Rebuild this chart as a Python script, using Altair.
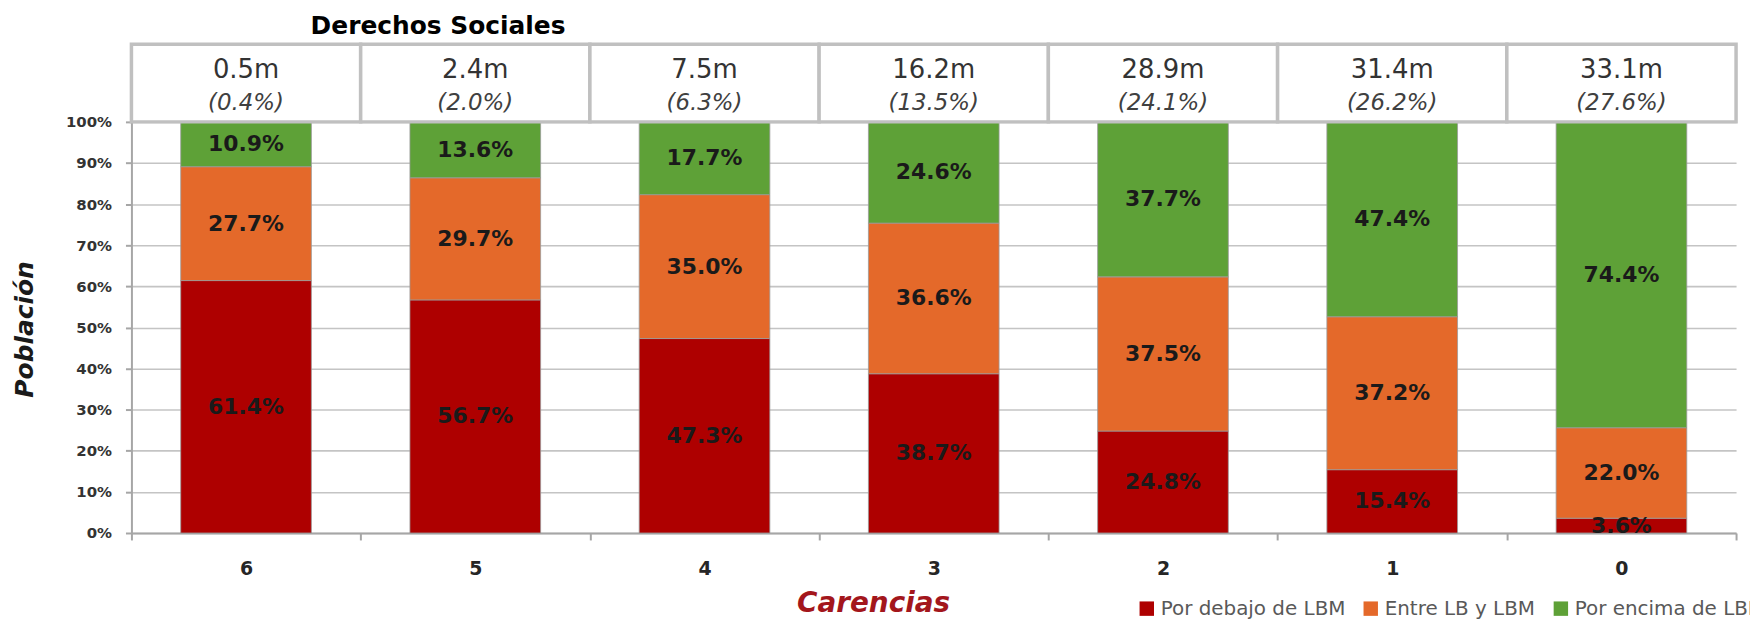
import altair as alt
import pandas as pd

carencias = ["6", "5", "4", "3", "2", "1", "0"]
por_debajo = [61.4, 56.7, 47.3, 38.7, 24.8, 15.4, 3.6]
entre = [27.7, 29.7, 35.0, 36.6, 37.5, 37.2, 22.0]
por_encima = [10.9, 13.6, 17.7, 24.6, 37.7, 47.4, 74.4]
poblacion = ["0.5m", "2.4m", "7.5m", "16.2m", "28.9m", "31.4m", "33.1m"]
porcentaje = ["(0.4%)", "(2.0%)", "(6.3%)", "(13.5%)", "(24.1%)", "(26.2%)", "(27.6%)"]
grupos = ["Por debajo de LBM", "Entre LB y LBM", "Por encima de LBM"]
colores = ["#ae0000", "#e4692a", "#5ea137"]
y_ticks = [0, 0.1, 0.2, 0.3, 0.4, 0.5, 0.6, 0.7, 0.8, 0.9, 1.0]

rows = []
for i, c in enumerate(carencias):
    vals = [por_debajo[i], entre[i], por_encima[i]]
    tot = sum(vals)
    cum = 0.0
    for j, (g, v) in enumerate(zip(grupos, vals)):
        rows.append(dict(Carencias=c, Grupo=g, orden=j, valor=v,
                         medio=(cum + v / 2) / tot, etiqueta=f"{v:.1f}%"))
        cum += v
df = pd.DataFrame(rows)
hdr = pd.DataFrame(dict(Carencias=carencias, poblacion=poblacion, porcentaje=porcentaje))

W, H = 1612, 413
GRAY = "#a6a6a6"
FONT = "DejaVu Sans"

x_axis = alt.Axis(
    title="Carencias", labelAngle=0, labelFont=FONT, labelFontSize=19,
    labelFontWeight="bold", labelColor="#262626", labelPadding=29, labelBaseline="middle",
    tickBand="extent", tickSize=7, tickColor=GRAY, tickWidth=2,
    domainColor=GRAY, domainWidth=2, grid=False,
    titleFont=FONT, titleFontSize=28, titleFontStyle="italic", titleFontWeight="bold",
    titleColor="#a3161c", titleX=745, titleY=71, titleAlign="center", titleBaseline="middle",
)
x_enc = alt.X("Carencias:N", sort=carencias,
              scale=alt.Scale(paddingInner=0, paddingOuter=0), axis=x_axis)

y_axis = alt.Axis(
    title="Población", values=y_ticks, format=".0%",
    labelFont=FONT, labelFontSize=15, labelFontWeight="bold", labelColor="#333333",
    labelPadding=14, tickSize=6, tickColor=GRAY, tickWidth=2,
    domainColor=GRAY, domainWidth=2, gridColor="#c4c4c4", gridWidth=1.6,
    titleFont=FONT, titleFontSize=25, titleFontStyle="italic", titleFontWeight="bold",
    titleColor="#1a1a1a", titleX=-107, titleY=208, titleAngle=270,
    titleAlign="center", titleBaseline="middle",
)
y_scale = alt.Scale(domain=[0, 1])

bars = alt.Chart(df).mark_bar(
    width=alt.RelativeBandSize(0.57), stroke="#9a9a9a", strokeWidth=0.8
).encode(
    x=x_enc,
    y=alt.Y("valor:Q", stack="normalize", scale=y_scale, axis=y_axis),
    color=alt.Color("Grupo:N", sort=grupos,
                    scale=alt.Scale(domain=grupos, range=colores),
                    legend=alt.Legend(
                        title=None, orient="none", legendX=1010, legendY=479,
                        direction="horizontal", symbolType="square", symbolSize=210,
                        symbolStrokeWidth=0, labelFont=FONT, labelFontSize=20,
                        labelColor="#595959", columnPadding=15, labelOffset=4,
                        labelLimit=500)),
    order=alt.Order("orden:Q", sort="ascending"),
)

labels = alt.Chart(df).mark_text(
    font=FONT, fontSize=22, fontWeight="bold", color="#1a1a1a", baseline="middle"
).encode(
    x=x_enc,
    y=alt.Y("medio:Q", scale=y_scale, axis=y_axis),
    text="etiqueta:N",
)

boxes = alt.Chart(hdr).mark_rect(fill="white", stroke="#c0c0c0", strokeWidth=3.5).encode(
    x=x_enc, y=alt.value(-78), y2=alt.value(0)
)
t1 = alt.Chart(hdr).mark_text(
    font=FONT, fontSize=26, color="#333333", baseline="middle"
).encode(x=x_enc, y=alt.value(-52), text="poblacion:N")
t2 = alt.Chart(hdr).mark_text(
    font=FONT, fontSize=23, fontStyle="italic", color="#404040", baseline="middle"
).encode(x=x_enc, y=alt.value(-19), text="porcentaje:N")

chart = alt.layer(bars, labels, boxes, t1, t2).properties(
    width=W, height=H,
    title=alt.TitleParams("Derechos Sociales", anchor="start", frame="group", dx=180,
                          dy=0, font=FONT, fontSize=25, fontWeight="bold", color="#000000"),
    autosize=alt.AutoSizeParams(type="none"),
    padding={"left": 124, "top": 113, "right": 14, "bottom": 86},
    background="white",
).configure_view(stroke=None)

chart.save("out.html", embed_options={"renderer": "svg", "actions": False})
